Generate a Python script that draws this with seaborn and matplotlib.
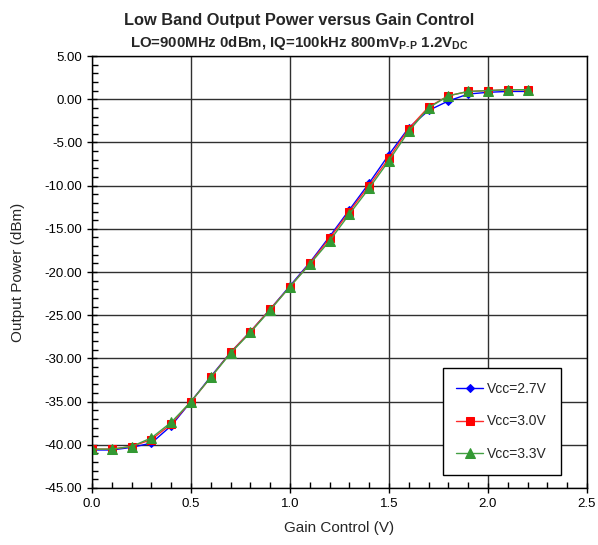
import matplotlib
matplotlib.use('Agg')
import matplotlib.pyplot as plt
from matplotlib.ticker import MultipleLocator, FormatStrFormatter
import numpy as np
import pandas as pd
import seaborn as sns

gain=[0.0,0.1,0.2,0.3,0.4,0.5,0.6,0.7,0.8,0.9,1.0,1.1,
      1.2,1.3,1.4,1.5,1.6,1.7,1.8,1.9,2.0,2.1,2.2]
vcc27=[-40.6,-40.6,-40.3,-39.8,-37.8,-35.0,-32.1,-29.3,-26.9,-24.3,-21.6,-18.9,
       -15.9,-12.8,-9.7,-6.4,-3.3,-1.3,-0.2,0.6,0.8,0.9,0.9]
vcc30=[-40.5,-40.5,-40.2,-39.4,-37.6,-35.0,-32.2,-29.3,-26.9,-24.3,-21.7,-19.0,
       -16.1,-13.0,-10.0,-6.8,-3.4,-0.9,0.4,0.9,1.0,1.1,1.1]
vcc33=[-40.5,-40.5,-40.2,-39.2,-37.4,-35.0,-32.2,-29.4,-27.0,-24.4,-21.7,-19.1,
       -16.4,-13.3,-10.3,-7.1,-3.7,-1.0,0.4,0.9,1.0,1.1,1.1]
labels=['Vcc=2.7V','Vcc=3.0V','Vcc=3.3V']

sns.set_style('white')
plt.rcParams['font.family']=['Liberation Sans','DejaVu Sans']
plt.rcParams['mathtext.fontset']='custom'
plt.rcParams['mathtext.rm']='Liberation Sans'
plt.rcParams['mathtext.bf']='Liberation Sans:bold'

fig=plt.figure(figsize=(5.98,5.45),dpi=100)
ax=fig.add_axes([0.1538,0.1046,0.8278,0.7926])

styles=[('#0000ff','D',4.5,'#0000ff'),
        ('#ff2a2a','s',6,'#ff0000'),
        ('#44a044','^',6.5,'#339933')]
for vals,lab,(lc,mk,ms,mc) in zip([vcc27,vcc30,vcc33],labels,styles):
    df=pd.DataFrame({'Gain Control (V)':gain,'Output Power (dBm)':vals})
    sns.lineplot(data=df,x='Gain Control (V)',y='Output Power (dBm)',ax=ax,
                 color=lc,marker=mk,markersize=ms,markerfacecolor=mc,
                 markeredgecolor=mc,linewidth=1.0,label=lab)

ax.set_xlim(0,2.5)
ax.set_ylim(-45,5)
ax.xaxis.set_major_locator(MultipleLocator(0.5))
ax.xaxis.set_minor_locator(MultipleLocator(0.1))
ax.yaxis.set_major_locator(MultipleLocator(5))
ax.yaxis.set_minor_locator(MultipleLocator(1))
ax.xaxis.set_major_formatter(FormatStrFormatter('%.1f'))
ax.yaxis.set_major_formatter(FormatStrFormatter('%.2f'))
ax.grid(True,which='major',color='#303030',linewidth=1.0)
ax.tick_params(which='major',direction='inout',length=7,width=1,labelsize=9.5,colors='black')
ax.tick_params(which='minor',direction='in',length=4,width=1,colors='black')
ax.tick_params(axis='both',which='both',bottom=True,left=True,top=False,right=False)
for s in ax.spines.values():
    s.set_color('black')
    s.set_linewidth(1.0)
ax.set_xlabel('Gain Control (V)',fontsize=11,labelpad=8)
ax.set_ylabel('Output Power (dBm)',fontsize=11,labelpad=14)

leg=ax.legend(loc='lower right',bbox_to_anchor=(0.947,0.030),fontsize=10,
              frameon=True,fancybox=False,framealpha=1,edgecolor='black',
              labelspacing=1.35,handlelength=1.9,borderpad=1.0,handletextpad=0.3,
              borderaxespad=0)
leg.get_frame().set_linewidth(1.0)

fig.text(0.5,0.963,'Low Band Output Power versus Gain Control',ha='center',
         va='center',fontsize=11.8,fontweight='bold')
fig.text(0.5,0.921,r'LO=900MHz 0dBm, IQ=100kHz 800mV$_\mathbf{P\text{-}P}$ 1.2V$_\mathbf{DC}$',
         ha='center',va='center',fontsize=10.8,fontweight='bold')

plt.savefig('out.png',dpi=100)
